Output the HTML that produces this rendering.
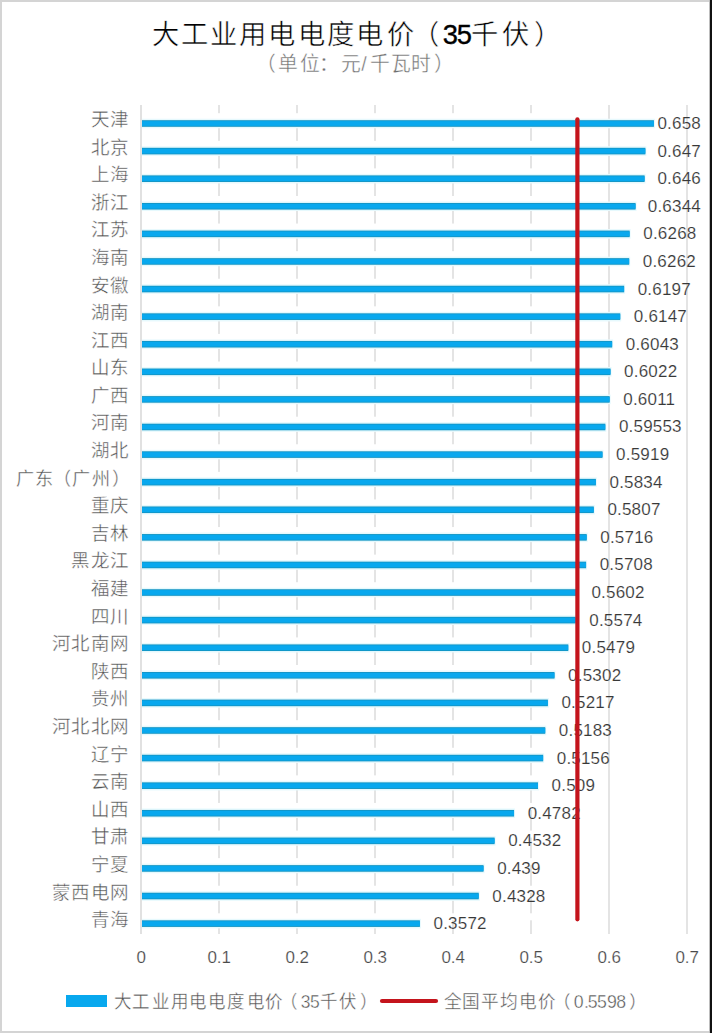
<!DOCTYPE html>
<html lang="zh-CN"><head><meta charset="utf-8">
<style>
html,body{margin:0;padding:0;background:#fff;}
body{width:712px;height:1033px;overflow:hidden;position:relative;font-family:"Liberation Sans",sans-serif;}
svg{position:absolute;left:0;top:0;}
text{font-family:"Liberation Sans",sans-serif;}
.cat{font-size:18.5px;fill:#505050;letter-spacing:0.3px;stroke:#fff;stroke-width:0.4px;}
.val{font-size:17px;fill:#383838;letter-spacing:0.2px;stroke:#fff;stroke-width:0.15px;}
.ax{font-size:17px;fill:#4a4a4a;stroke:#fff;stroke-width:0.2px;}
</style></head><body>
<svg width="712" height="1033" viewBox="0 0 712 1033">
<rect x="0" y="0" width="712" height="1033" fill="#fff"/>

<rect x="218.5" y="105" width="1" height="829" fill="#cacaca"/>
<rect x="296.5" y="105" width="1" height="829" fill="#cacaca"/>
<rect x="374.5" y="105" width="1" height="829" fill="#cacaca"/>
<rect x="452.5" y="105" width="1" height="829" fill="#cacaca"/>
<rect x="530.5" y="105" width="1" height="829" fill="#cacaca"/>
<rect x="608.5" y="105" width="1" height="829" fill="#cacaca"/>
<rect x="686.5" y="105" width="1" height="829" fill="#cacaca"/>
<rect x="140.5" y="105" width="1" height="829" fill="#c4c4c4"/>
<rect x="142" y="113.20" width="435.52" height="7" fill="#fff"/>
<rect x="142" y="119.20" width="512.92" height="8.60" fill="#fff"/>
<rect x="142" y="140.79" width="435.52" height="7" fill="#fff"/>
<rect x="142" y="146.79" width="504.37" height="8.60" fill="#fff"/>
<rect x="142" y="168.38" width="435.52" height="7" fill="#fff"/>
<rect x="142" y="174.38" width="503.59" height="8.60" fill="#fff"/>
<rect x="142" y="195.97" width="435.52" height="7" fill="#fff"/>
<rect x="142" y="201.97" width="494.56" height="8.60" fill="#fff"/>
<rect x="142" y="223.56" width="435.52" height="7" fill="#fff"/>
<rect x="142" y="229.56" width="488.65" height="8.60" fill="#fff"/>
<rect x="142" y="251.15" width="435.52" height="7" fill="#fff"/>
<rect x="142" y="257.15" width="488.18" height="8.60" fill="#fff"/>
<rect x="142" y="278.74" width="435.52" height="7" fill="#fff"/>
<rect x="142" y="284.74" width="483.13" height="8.60" fill="#fff"/>
<rect x="142" y="306.33" width="435.52" height="7" fill="#fff"/>
<rect x="142" y="312.33" width="479.24" height="8.60" fill="#fff"/>
<rect x="142" y="333.92" width="435.52" height="7" fill="#fff"/>
<rect x="142" y="339.92" width="471.15" height="8.60" fill="#fff"/>
<rect x="142" y="361.51" width="435.52" height="7" fill="#fff"/>
<rect x="142" y="367.51" width="469.51" height="8.60" fill="#fff"/>
<rect x="142" y="389.10" width="435.52" height="7" fill="#fff"/>
<rect x="142" y="395.10" width="468.66" height="8.60" fill="#fff"/>
<rect x="142" y="416.69" width="435.52" height="7" fill="#fff"/>
<rect x="142" y="422.69" width="464.32" height="8.60" fill="#fff"/>
<rect x="142" y="444.28" width="435.52" height="7" fill="#fff"/>
<rect x="142" y="450.28" width="461.50" height="8.60" fill="#fff"/>
<rect x="142" y="471.87" width="435.52" height="7" fill="#fff"/>
<rect x="142" y="477.87" width="454.89" height="8.60" fill="#fff"/>
<rect x="142" y="499.46" width="435.52" height="7" fill="#fff"/>
<rect x="142" y="505.46" width="452.78" height="8.60" fill="#fff"/>
<rect x="142" y="527.05" width="435.52" height="7" fill="#fff"/>
<rect x="142" y="533.05" width="445.70" height="8.60" fill="#fff"/>
<rect x="142" y="554.64" width="435.52" height="7" fill="#fff"/>
<rect x="142" y="560.64" width="445.08" height="8.60" fill="#fff"/>
<rect x="142" y="582.23" width="435.52" height="7" fill="#fff"/>
<rect x="142" y="588.23" width="436.84" height="8.60" fill="#fff"/>
<rect x="142" y="609.82" width="435.52" height="7" fill="#fff"/>
<rect x="142" y="615.82" width="434.66" height="8.60" fill="#fff"/>
<rect x="142" y="637.41" width="435.52" height="7" fill="#fff"/>
<rect x="142" y="643.41" width="427.27" height="8.60" fill="#fff"/>
<rect x="142" y="665.00" width="435.52" height="7" fill="#fff"/>
<rect x="142" y="671.00" width="413.50" height="8.60" fill="#fff"/>
<rect x="142" y="692.59" width="435.52" height="7" fill="#fff"/>
<rect x="142" y="698.59" width="406.88" height="8.60" fill="#fff"/>
<rect x="142" y="720.18" width="435.52" height="7" fill="#fff"/>
<rect x="142" y="726.18" width="404.24" height="8.60" fill="#fff"/>
<rect x="142" y="747.77" width="435.52" height="7" fill="#fff"/>
<rect x="142" y="753.77" width="402.14" height="8.60" fill="#fff"/>
<rect x="142" y="775.36" width="435.52" height="7" fill="#fff"/>
<rect x="142" y="781.36" width="397.00" height="8.60" fill="#fff"/>
<rect x="142" y="802.95" width="435.52" height="7" fill="#fff"/>
<rect x="142" y="808.95" width="373.04" height="8.60" fill="#fff"/>
<rect x="142" y="830.54" width="435.52" height="7" fill="#fff"/>
<rect x="142" y="836.54" width="353.59" height="8.60" fill="#fff"/>
<rect x="142" y="858.13" width="435.52" height="7" fill="#fff"/>
<rect x="142" y="864.13" width="342.54" height="8.60" fill="#fff"/>
<rect x="142" y="885.72" width="435.52" height="7" fill="#fff"/>
<rect x="142" y="891.72" width="337.72" height="8.60" fill="#fff"/>
<rect x="142" y="913.31" width="435.52" height="7" fill="#fff"/>
<rect x="142" y="919.31" width="278.90" height="8.60" fill="#fff"/>
<text class="val" x="701.00" y="129.00" text-anchor="end">0.658</text>
<text class="val" x="701.00" y="156.59" text-anchor="end">0.647</text>
<text class="val" x="701.00" y="184.18" text-anchor="end">0.646</text>
<text class="val" x="701.00" y="211.77" text-anchor="end">0.6344</text>
<text class="val" x="643.25" y="239.36">0.6268</text>
<text class="val" x="642.78" y="266.95">0.6262</text>
<text class="val" x="637.73" y="294.54">0.6197</text>
<text class="val" x="633.84" y="322.13">0.6147</text>
<text class="val" x="625.75" y="349.72">0.6043</text>
<text class="val" x="624.11" y="377.31">0.6022</text>
<text class="val" x="623.26" y="404.90">0.6011</text>
<text class="val" x="618.92" y="432.49">0.59553</text>
<text class="val" x="616.10" y="460.08">0.5919</text>
<text class="val" x="609.49" y="487.67">0.5834</text>
<text class="val" x="607.38" y="515.26">0.5807</text>
<text class="val" x="600.30" y="542.85">0.5716</text>
<text class="val" x="599.68" y="570.44">0.5708</text>
<text class="val" x="591.44" y="598.03">0.5602</text>
<text class="val" x="589.26" y="625.62">0.5574</text>
<text class="val" x="581.87" y="653.21">0.5479</text>
<text class="val" x="568.10" y="680.80">0.5302</text>
<text class="val" x="561.48" y="708.39">0.5217</text>
<text class="val" x="558.84" y="735.98">0.5183</text>
<text class="val" x="556.74" y="763.57">0.5156</text>
<text class="val" x="551.60" y="791.16">0.509</text>
<text class="val" x="527.64" y="818.75">0.4782</text>
<text class="val" x="508.19" y="846.34">0.4532</text>
<text class="val" x="497.14" y="873.93">0.439</text>
<text class="val" x="492.32" y="901.52">0.4328</text>
<text class="val" x="433.50" y="929.11">0.3572</text>
<rect x="142" y="118.70" width="512.92" height="9.60" fill="#e6f9fd"/>
<rect x="142" y="120.20" width="511.92" height="6.6" fill="#1495c4"/>
<rect x="142" y="121.10" width="511.92" height="4.80" fill="#08a8ee"/>
<text class="cat" x="129.3" y="126.00" text-anchor="end">天津</text>
<rect x="142" y="146.29" width="504.37" height="9.60" fill="#e6f9fd"/>
<rect x="142" y="147.79" width="503.37" height="6.6" fill="#1495c4"/>
<rect x="142" y="148.69" width="503.37" height="4.80" fill="#08a8ee"/>
<text class="cat" x="129.3" y="153.59" text-anchor="end">北京</text>
<rect x="142" y="173.88" width="503.59" height="9.60" fill="#e6f9fd"/>
<rect x="142" y="175.38" width="502.59" height="6.6" fill="#1495c4"/>
<rect x="142" y="176.28" width="502.59" height="4.80" fill="#08a8ee"/>
<text class="cat" x="129.3" y="181.18" text-anchor="end">上海</text>
<rect x="142" y="201.47" width="494.56" height="9.60" fill="#e6f9fd"/>
<rect x="142" y="202.97" width="493.56" height="6.6" fill="#1495c4"/>
<rect x="142" y="203.87" width="493.56" height="4.80" fill="#08a8ee"/>
<text class="cat" x="129.3" y="208.77" text-anchor="end">浙江</text>
<rect x="142" y="229.06" width="488.65" height="9.60" fill="#e6f9fd"/>
<rect x="142" y="230.56" width="487.65" height="6.6" fill="#1495c4"/>
<rect x="142" y="231.46" width="487.65" height="4.80" fill="#08a8ee"/>
<text class="cat" x="129.3" y="236.36" text-anchor="end">江苏</text>
<rect x="142" y="256.65" width="488.18" height="9.60" fill="#e6f9fd"/>
<rect x="142" y="258.15" width="487.18" height="6.6" fill="#1495c4"/>
<rect x="142" y="259.05" width="487.18" height="4.80" fill="#08a8ee"/>
<text class="cat" x="129.3" y="263.95" text-anchor="end">海南</text>
<rect x="142" y="284.24" width="483.13" height="9.60" fill="#e6f9fd"/>
<rect x="142" y="285.74" width="482.13" height="6.6" fill="#1495c4"/>
<rect x="142" y="286.64" width="482.13" height="4.80" fill="#08a8ee"/>
<text class="cat" x="129.3" y="291.54" text-anchor="end">安徽</text>
<rect x="142" y="311.83" width="479.24" height="9.60" fill="#e6f9fd"/>
<rect x="142" y="313.33" width="478.24" height="6.6" fill="#1495c4"/>
<rect x="142" y="314.23" width="478.24" height="4.80" fill="#08a8ee"/>
<text class="cat" x="129.3" y="319.13" text-anchor="end">湖南</text>
<rect x="142" y="339.42" width="471.15" height="9.60" fill="#e6f9fd"/>
<rect x="142" y="340.92" width="470.15" height="6.6" fill="#1495c4"/>
<rect x="142" y="341.82" width="470.15" height="4.80" fill="#08a8ee"/>
<text class="cat" x="129.3" y="346.72" text-anchor="end">江西</text>
<rect x="142" y="367.01" width="469.51" height="9.60" fill="#e6f9fd"/>
<rect x="142" y="368.51" width="468.51" height="6.6" fill="#1495c4"/>
<rect x="142" y="369.41" width="468.51" height="4.80" fill="#08a8ee"/>
<text class="cat" x="129.3" y="374.31" text-anchor="end">山东</text>
<rect x="142" y="394.60" width="468.66" height="9.60" fill="#e6f9fd"/>
<rect x="142" y="396.10" width="467.66" height="6.6" fill="#1495c4"/>
<rect x="142" y="397.00" width="467.66" height="4.80" fill="#08a8ee"/>
<text class="cat" x="129.3" y="401.90" text-anchor="end">广西</text>
<rect x="142" y="422.19" width="464.32" height="9.60" fill="#e6f9fd"/>
<rect x="142" y="423.69" width="463.32" height="6.6" fill="#1495c4"/>
<rect x="142" y="424.59" width="463.32" height="4.80" fill="#08a8ee"/>
<text class="cat" x="129.3" y="429.49" text-anchor="end">河南</text>
<rect x="142" y="449.78" width="461.50" height="9.60" fill="#e6f9fd"/>
<rect x="142" y="451.28" width="460.50" height="6.6" fill="#1495c4"/>
<rect x="142" y="452.18" width="460.50" height="4.80" fill="#08a8ee"/>
<text class="cat" x="129.3" y="457.08" text-anchor="end">湖北</text>
<rect x="142" y="477.37" width="454.89" height="9.60" fill="#e6f9fd"/>
<rect x="142" y="478.87" width="453.89" height="6.6" fill="#1495c4"/>
<rect x="142" y="479.77" width="453.89" height="4.80" fill="#08a8ee"/>
<text x="0" y="0" transform="translate(16.13,484.98) scale(0.9825,0.9954)" style="font-size:18.5px;fill:#505050;stroke:#fff;stroke-width:0.4px;">广</text>
<text x="0" y="0" transform="translate(34.99,484.98) scale(0.9825,0.9954)" style="font-size:18.5px;fill:#505050;stroke:#fff;stroke-width:0.4px;">东</text>
<text x="0" y="0" transform="translate(52.51,484.98) scale(0.9825,0.9954)" style="font-size:18.5px;fill:#505050;stroke:#fff;stroke-width:0.4px;">（</text>
<text x="0" y="0" transform="translate(72.23,484.98) scale(0.9825,0.9954)" style="font-size:18.5px;fill:#505050;stroke:#fff;stroke-width:0.4px;">广</text>
<text x="0" y="0" transform="translate(91.69,484.98) scale(0.9825,0.9954)" style="font-size:18.5px;fill:#505050;stroke:#fff;stroke-width:0.4px;">州</text>
<text x="0" y="0" transform="translate(112.06,484.98) scale(0.9825,0.9954)" style="font-size:18.5px;fill:#505050;stroke:#fff;stroke-width:0.4px;">）</text>
<rect x="142" y="504.96" width="452.78" height="9.60" fill="#e6f9fd"/>
<rect x="142" y="506.46" width="451.78" height="6.6" fill="#1495c4"/>
<rect x="142" y="507.36" width="451.78" height="4.80" fill="#08a8ee"/>
<text class="cat" x="129.3" y="512.26" text-anchor="end">重庆</text>
<rect x="142" y="532.55" width="445.70" height="9.60" fill="#e6f9fd"/>
<rect x="142" y="534.05" width="444.70" height="6.6" fill="#1495c4"/>
<rect x="142" y="534.95" width="444.70" height="4.80" fill="#08a8ee"/>
<text class="cat" x="129.3" y="539.85" text-anchor="end">吉林</text>
<rect x="142" y="560.14" width="445.08" height="9.60" fill="#e6f9fd"/>
<rect x="142" y="561.64" width="444.08" height="6.6" fill="#1495c4"/>
<rect x="142" y="562.54" width="444.08" height="4.80" fill="#08a8ee"/>
<text class="cat" x="129.3" y="567.44" text-anchor="end">黑龙江</text>
<rect x="142" y="587.73" width="436.84" height="9.60" fill="#e6f9fd"/>
<rect x="142" y="589.23" width="435.84" height="6.6" fill="#1495c4"/>
<rect x="142" y="590.13" width="435.84" height="4.80" fill="#08a8ee"/>
<text class="cat" x="129.3" y="595.03" text-anchor="end">福建</text>
<rect x="142" y="615.32" width="434.66" height="9.60" fill="#e6f9fd"/>
<rect x="142" y="616.82" width="433.66" height="6.6" fill="#1495c4"/>
<rect x="142" y="617.72" width="433.66" height="4.80" fill="#08a8ee"/>
<text class="cat" x="129.3" y="622.62" text-anchor="end">四川</text>
<rect x="142" y="642.91" width="427.27" height="9.60" fill="#e6f9fd"/>
<rect x="142" y="644.41" width="426.27" height="6.6" fill="#1495c4"/>
<rect x="142" y="645.31" width="426.27" height="4.80" fill="#08a8ee"/>
<text class="cat" x="129.3" y="650.21" text-anchor="end">河北南网</text>
<rect x="142" y="670.50" width="413.50" height="9.60" fill="#e6f9fd"/>
<rect x="142" y="672.00" width="412.50" height="6.6" fill="#1495c4"/>
<rect x="142" y="672.90" width="412.50" height="4.80" fill="#08a8ee"/>
<text class="cat" x="129.3" y="677.80" text-anchor="end">陕西</text>
<rect x="142" y="698.09" width="406.88" height="9.60" fill="#e6f9fd"/>
<rect x="142" y="699.59" width="405.88" height="6.6" fill="#1495c4"/>
<rect x="142" y="700.49" width="405.88" height="4.80" fill="#08a8ee"/>
<text class="cat" x="129.3" y="705.39" text-anchor="end">贵州</text>
<rect x="142" y="725.68" width="404.24" height="9.60" fill="#e6f9fd"/>
<rect x="142" y="727.18" width="403.24" height="6.6" fill="#1495c4"/>
<rect x="142" y="728.08" width="403.24" height="4.80" fill="#08a8ee"/>
<text class="cat" x="129.3" y="732.98" text-anchor="end">河北北网</text>
<rect x="142" y="753.27" width="402.14" height="9.60" fill="#e6f9fd"/>
<rect x="142" y="754.77" width="401.14" height="6.6" fill="#1495c4"/>
<rect x="142" y="755.67" width="401.14" height="4.80" fill="#08a8ee"/>
<text class="cat" x="129.3" y="760.57" text-anchor="end">辽宁</text>
<rect x="142" y="780.86" width="397.00" height="9.60" fill="#e6f9fd"/>
<rect x="142" y="782.36" width="396.00" height="6.6" fill="#1495c4"/>
<rect x="142" y="783.26" width="396.00" height="4.80" fill="#08a8ee"/>
<text class="cat" x="129.3" y="788.16" text-anchor="end">云南</text>
<rect x="142" y="808.45" width="373.04" height="9.60" fill="#e6f9fd"/>
<rect x="142" y="809.95" width="372.04" height="6.6" fill="#1495c4"/>
<rect x="142" y="810.85" width="372.04" height="4.80" fill="#08a8ee"/>
<text class="cat" x="129.3" y="815.75" text-anchor="end">山西</text>
<rect x="142" y="836.04" width="353.59" height="9.60" fill="#e6f9fd"/>
<rect x="142" y="837.54" width="352.59" height="6.6" fill="#1495c4"/>
<rect x="142" y="838.44" width="352.59" height="4.80" fill="#08a8ee"/>
<text class="cat" x="129.3" y="843.34" text-anchor="end">甘肃</text>
<rect x="142" y="863.63" width="342.54" height="9.60" fill="#e6f9fd"/>
<rect x="142" y="865.13" width="341.54" height="6.6" fill="#1495c4"/>
<rect x="142" y="866.03" width="341.54" height="4.80" fill="#08a8ee"/>
<text class="cat" x="129.3" y="870.93" text-anchor="end">宁夏</text>
<rect x="142" y="891.22" width="337.72" height="9.60" fill="#e6f9fd"/>
<rect x="142" y="892.72" width="336.72" height="6.6" fill="#1495c4"/>
<rect x="142" y="893.62" width="336.72" height="4.80" fill="#08a8ee"/>
<text class="cat" x="129.3" y="898.52" text-anchor="end">蒙西电网</text>
<rect x="142" y="918.81" width="278.90" height="9.60" fill="#e6f9fd"/>
<rect x="142" y="920.31" width="277.90" height="6.6" fill="#1495c4"/>
<rect x="142" y="921.21" width="277.90" height="4.80" fill="#08a8ee"/>
<text class="cat" x="129.3" y="926.11" text-anchor="end">青海</text>
<line x1="577.4" y1="119.3" x2="577.4" y2="919.3" stroke="#c4141c" stroke-width="4.2" stroke-linecap="round"/>
<text class="ax" x="141.2" y="963.2" text-anchor="middle">0</text>
<text class="ax" x="219.2" y="963.2" text-anchor="middle">0.1</text>
<text class="ax" x="297.2" y="963.2" text-anchor="middle">0.2</text>
<text class="ax" x="375.2" y="963.2" text-anchor="middle">0.3</text>
<text class="ax" x="453.2" y="963.2" text-anchor="middle">0.4</text>
<text class="ax" x="531.2" y="963.2" text-anchor="middle">0.5</text>
<text class="ax" x="609.2" y="963.2" text-anchor="middle">0.6</text>
<text class="ax" x="687.2" y="963.2" text-anchor="middle">0.7</text>
<text x="0" y="0" transform="translate(151.88,43.8) scale(0.9421,0.953)" style="font-size:29px;fill:#000;stroke:#fff;stroke-width:0.5px">大</text>
<text x="0" y="0" transform="translate(181.06,43.8) scale(0.9421,0.953)" style="font-size:29px;fill:#000;stroke:#fff;stroke-width:0.5px">工</text>
<text x="0" y="0" transform="translate(210.26,43.8) scale(0.9421,0.953)" style="font-size:29px;fill:#000;stroke:#fff;stroke-width:0.5px">业</text>
<text x="0" y="0" transform="translate(239.21,43.8) scale(0.9421,0.953)" style="font-size:29px;fill:#000;stroke:#fff;stroke-width:0.5px">用</text>
<text x="0" y="0" transform="translate(267.94,43.8) scale(0.9421,0.953)" style="font-size:29px;fill:#000;stroke:#fff;stroke-width:0.5px">电</text>
<text x="0" y="0" transform="translate(298.04,43.8) scale(0.9421,0.953)" style="font-size:29px;fill:#000;stroke:#fff;stroke-width:0.5px">电</text>
<text x="0" y="0" transform="translate(326.69,43.8) scale(0.9421,0.953)" style="font-size:29px;fill:#000;stroke:#fff;stroke-width:0.5px">度</text>
<text x="0" y="0" transform="translate(356.09,43.8) scale(0.9421,0.953)" style="font-size:29px;fill:#000;stroke:#fff;stroke-width:0.5px">电</text>
<text x="0" y="0" transform="translate(387.26,43.8) scale(0.9421,0.953)" style="font-size:29px;fill:#000;stroke:#fff;stroke-width:0.5px">价</text>
<text x="0" y="0" transform="translate(411.81,43.8) scale(0.9421,0.953)" style="font-size:29px;fill:#000;stroke:#fff;stroke-width:0.5px">（</text>
<text x="0" y="0" transform="translate(442.73,43.8) scale(0.9421,0.953)" style="font-size:29px;fill:#000;stroke:#000;stroke-width:0.4px">3</text>
<text x="0" y="0" transform="translate(456.8,43.8) scale(0.9421,0.953)" style="font-size:29px;fill:#000;stroke:#000;stroke-width:0.4px">5</text>
<text x="0" y="0" transform="translate(471.18,43.8) scale(0.9421,0.953)" style="font-size:29px;fill:#000;stroke:#fff;stroke-width:0.5px">千</text>
<text x="0" y="0" transform="translate(502.29,43.8) scale(0.9421,0.953)" style="font-size:29px;fill:#000;stroke:#fff;stroke-width:0.5px">伏</text>
<text x="0" y="0" transform="translate(533.72,43.8) scale(0.9421,0.953)" style="font-size:29px;fill:#000;stroke:#fff;stroke-width:0.5px">）</text>
<text x="0" y="0" transform="translate(255.52,70.96) scale(0.9894,1.0268)" style="font-size:20px;fill:#6e6e6e;stroke:#fff;stroke-width:0.4px">（</text>
<text x="0" y="0" transform="translate(278.03,70.96) scale(0.9894,1.0268)" style="font-size:20px;fill:#6e6e6e;stroke:#fff;stroke-width:0.4px">单</text>
<text x="0" y="0" transform="translate(299.6,70.96) scale(0.9894,1.0268)" style="font-size:20px;fill:#6e6e6e;stroke:#fff;stroke-width:0.4px">位</text>
<text x="0" y="0" transform="translate(318.66,70.96) scale(0.9894,1.0268)" style="font-size:20px;fill:#6e6e6e;stroke:#fff;stroke-width:0.4px">：</text>
<text x="0" y="0" transform="translate(340.76,70.96) scale(0.9894,1.0268)" style="font-size:20px;fill:#6e6e6e;stroke:#fff;stroke-width:0.4px">元</text>
<text x="0" y="0" transform="translate(361.15,70.96) scale(0.9894,1.0268)" style="font-size:20px;fill:#6e6e6e;stroke:#fff;stroke-width:0.4px">/</text>
<text x="0" y="0" transform="translate(369.5,70.96) scale(0.9894,1.0268)" style="font-size:20px;fill:#6e6e6e;stroke:#fff;stroke-width:0.4px">千</text>
<text x="0" y="0" transform="translate(391.06,70.96) scale(0.9894,1.0268)" style="font-size:20px;fill:#6e6e6e;stroke:#fff;stroke-width:0.4px">瓦</text>
<text x="0" y="0" transform="translate(410.98,70.96) scale(0.9894,1.0268)" style="font-size:20px;fill:#6e6e6e;stroke:#fff;stroke-width:0.4px">时</text>
<text x="0" y="0" transform="translate(433.65,70.96) scale(0.9894,1.0268)" style="font-size:20px;fill:#6e6e6e;stroke:#fff;stroke-width:0.4px">）</text>
<rect x="66" y="995" width="41" height="12" fill="#08a8ee"/>
<text x="0" y="0" transform="translate(113.85,1007.86) scale(0.921,0.9576)" style="font-size:19px;fill:#505050;stroke:#fff;stroke-width:0.4px">大</text>
<text x="0" y="0" transform="translate(132.38,1007.86) scale(0.921,0.9576)" style="font-size:19px;fill:#505050;stroke:#fff;stroke-width:0.4px">工</text>
<text x="0" y="0" transform="translate(152.06,1007.86) scale(0.921,0.9576)" style="font-size:19px;fill:#505050;stroke:#fff;stroke-width:0.4px">业</text>
<text x="0" y="0" transform="translate(170.72,1007.86) scale(0.921,0.9576)" style="font-size:19px;fill:#505050;stroke:#fff;stroke-width:0.4px">用</text>
<text x="0" y="0" transform="translate(188.98,1007.86) scale(0.921,0.9576)" style="font-size:19px;fill:#505050;stroke:#fff;stroke-width:0.4px">电</text>
<text x="0" y="0" transform="translate(208.08,1007.86) scale(0.921,0.9576)" style="font-size:19px;fill:#505050;stroke:#fff;stroke-width:0.4px">电</text>
<text x="0" y="0" transform="translate(226.56,1007.86) scale(0.921,0.9576)" style="font-size:19px;fill:#505050;stroke:#fff;stroke-width:0.4px">度</text>
<text x="0" y="0" transform="translate(247.43,1007.86) scale(0.921,0.9576)" style="font-size:19px;fill:#505050;stroke:#fff;stroke-width:0.4px">电</text>
<text x="0" y="0" transform="translate(265.12,1007.86) scale(0.921,0.9576)" style="font-size:19px;fill:#505050;stroke:#fff;stroke-width:0.4px">价</text>
<text x="0" y="0" transform="translate(280.01,1007.86) scale(0.921,0.9576)" style="font-size:19px;fill:#505050;stroke:#fff;stroke-width:0.4px">（</text>
<text x="0" y="0" transform="translate(300.77,1007.86) scale(0.921,0.9576)" style="font-size:19px;fill:#505050;stroke:#fff;stroke-width:0.4px">3</text>
<text x="0" y="0" transform="translate(309.98,1007.86) scale(0.921,0.9576)" style="font-size:19px;fill:#505050;stroke:#fff;stroke-width:0.4px">5</text>
<text x="0" y="0" transform="translate(320.0,1007.86) scale(0.921,0.9576)" style="font-size:19px;fill:#505050;stroke:#fff;stroke-width:0.4px">千</text>
<text x="0" y="0" transform="translate(339.44,1007.86) scale(0.921,0.9576)" style="font-size:19px;fill:#505050;stroke:#fff;stroke-width:0.4px">伏</text>
<text x="0" y="0" transform="translate(360.45,1007.86) scale(0.921,0.9576)" style="font-size:19px;fill:#505050;stroke:#fff;stroke-width:0.4px">）</text>
<line x1="382" y1="1001" x2="436" y2="1001" stroke="#c4141c" stroke-width="4.2" stroke-linecap="round"/>
<text x="0" y="0" transform="translate(443.93,1008.02) scale(0.9316,0.9425)" style="font-size:19px;fill:#505050;stroke:#fff;stroke-width:0.4px">全</text>
<text x="0" y="0" transform="translate(462.1,1008.02) scale(0.9316,0.9425)" style="font-size:19px;fill:#505050;stroke:#fff;stroke-width:0.4px">国</text>
<text x="0" y="0" transform="translate(481.0,1008.02) scale(0.9316,0.9425)" style="font-size:19px;fill:#505050;stroke:#fff;stroke-width:0.4px">平</text>
<text x="0" y="0" transform="translate(499.83,1008.02) scale(0.9316,0.9425)" style="font-size:19px;fill:#505050;stroke:#fff;stroke-width:0.4px">均</text>
<text x="0" y="0" transform="translate(518.53,1008.02) scale(0.9316,0.9425)" style="font-size:19px;fill:#505050;stroke:#fff;stroke-width:0.4px">电</text>
<text x="0" y="0" transform="translate(537.52,1008.02) scale(0.9316,0.9425)" style="font-size:19px;fill:#505050;stroke:#fff;stroke-width:0.4px">价</text>
<text x="0" y="0" transform="translate(553.29,1008.02) scale(0.9316,0.9425)" style="font-size:19px;fill:#505050;stroke:#fff;stroke-width:0.4px">（</text>
<text x="0" y="0" transform="translate(573.74,1008.02) scale(0.9316,0.9425)" style="font-size:19px;fill:#505050;stroke:#fff;stroke-width:0.4px">0</text>
<text x="0" y="0" transform="translate(583.9,1008.02) scale(0.9316,0.9425)" style="font-size:19px;fill:#505050;stroke:#fff;stroke-width:0.4px">.</text>
<text x="0" y="0" transform="translate(587.63,1008.02) scale(0.9316,0.9425)" style="font-size:19px;fill:#505050;stroke:#fff;stroke-width:0.4px">5</text>
<text x="0" y="0" transform="translate(596.93,1008.02) scale(0.9316,0.9425)" style="font-size:19px;fill:#505050;stroke:#fff;stroke-width:0.4px">5</text>
<text x="0" y="0" transform="translate(606.92,1008.02) scale(0.9316,0.9425)" style="font-size:19px;fill:#505050;stroke:#fff;stroke-width:0.4px">9</text>
<text x="0" y="0" transform="translate(616.24,1008.02) scale(0.9316,0.9425)" style="font-size:19px;fill:#505050;stroke:#fff;stroke-width:0.4px">8</text>
<text x="0" y="0" transform="translate(628.86,1008.02) scale(0.9316,0.9425)" style="font-size:19px;fill:#505050;stroke:#fff;stroke-width:0.4px">）</text>
<rect x="0" y="0" width="712" height="2" fill="#d4d4d4"/>
<rect x="0" y="1031" width="712" height="2" fill="#d4d4d4"/>
<rect x="0" y="0" width="2" height="1033" fill="#d4d4d4"/>
<rect x="709" y="0" width="1" height="1033" fill="#bdbdbd"/>
<rect x="710" y="0" width="2" height="1033" fill="#111"/>
</svg></body></html>
